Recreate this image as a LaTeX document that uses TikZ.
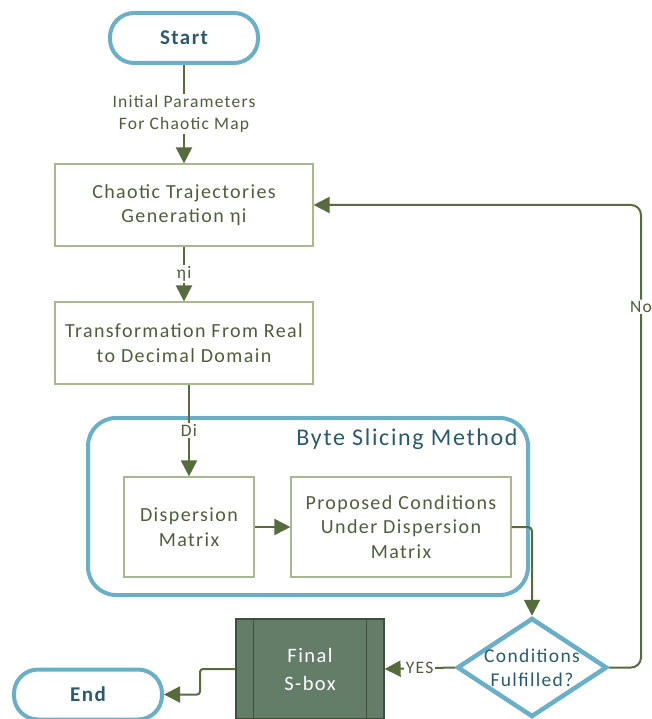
\documentclass[tikz,border=0pt]{standalone}
\usepackage{fontspec}
\setmainfont{Carlito}[LetterSpace=7]
\usetikzlibrary{arrows.meta,shapes.geometric}

\definecolor{frameblue}{HTML}{6AAFC8}
\definecolor{linegreen}{HTML}{566B3E}
\definecolor{boxgreen}{HTML}{A9B98F}
\definecolor{textgreen}{HTML}{4E5E3C}
\definecolor{textteal}{HTML}{2A5B6B}
\definecolor{sboxfill}{HTML}{647D69}
\definecolor{sboxline}{HTML}{3E4F40}

\tikzset{
  terminal/.style={draw=frameblue, line width=4pt, rounded corners=24pt,
    minimum width=148pt, minimum height=50pt, inner sep=0pt,
    font=\fontsize{21}{24}\selectfont\bfseries, text=textteal},
  process/.style={draw=boxgreen, line width=1.2pt, inner sep=0pt,
    align=center, text=textgreen, font=\fontsize{20}{24.5}\selectfont},
  decision/.style={diamond, draw=frameblue, line width=4.5pt, inner sep=0pt,
    minimum width=150pt, minimum height=99pt},
  condtext/.style={align=center, text=textteal, font=\fontsize{19.5}{24}\selectfont},
  sboxnode/.style={draw=sboxline, fill=sboxfill, line width=1.2pt, inner sep=0pt,
    minimum width=148pt, minimum height=100pt, align=center, text=white,
    font=\fontsize{20.5}{28}\selectfont},
  flow/.style={draw=linegreen, line width=2pt, -{Triangle[length=16pt,width=16pt]}},
  lbl/.style={fill=white, inner sep=1.5pt, align=center, text=textgreen,
    font=\fontsize{17.5}{22}\selectfont},
}

\begin{document}
\begin{tikzpicture}[x=1pt,y=-1pt]
  \useasboundingbox (0,0) rectangle (652,719);

  % main column
  \node[terminal] (start) at (184,38) {Start};
  \node[process, minimum width=258pt, minimum height=82pt] (chaos) at (184,205)
    {Chaotic Trajectories\\Generation ηi};
  \node[process, minimum width=258pt, minimum height=82pt] (trans) at (184,343)
    {Transformation From Real\\to Decimal Domain};

  % byte slicing block
  \draw[frameblue, line width=4pt, rounded corners=28pt] (88,418) rectangle (528,595);
  \node[text=textteal, font=\fontsize{24}{28}\selectfont] (bsm) at (407,439) {Byte Slicing Method};
  \node[process, minimum width=130pt, minimum height=100pt] (disp) at (189,527)
    {Dispersion\\Matrix};
  \node[process, minimum width=220pt, minimum height=100pt] (prop) at (401,527)
    {Proposed Conditions\\Under Dispersion\\Matrix};

  % bottom row
  \node[decision] (cond) at (532,667.5) {};
  \node[condtext] (condlbl) at (cond) {Conditions\\Fulfilled?};
  \node[sboxnode] (sbox) at (310,669) {Final\\S-box};
  \draw[sboxline, line width=1.2pt]
    ([xshift=18pt]sbox.north west) -- ([xshift=18pt]sbox.south west)
    ([xshift=-18pt]sbox.north east) -- ([xshift=-18pt]sbox.south east);
  \node[terminal] (end) at (88,694.5) {End};

  \coordinate (noturn) at (641,0);
  \coordinate (endturn) at (200,0);

  \draw[flow] (start) -- node[lbl] {Initial Parameters\\For Chaotic Map} (chaos);
  \draw[flow] (chaos) -- node[lbl] {ηi} (trans);
  \draw[flow] (disp.north |- trans.south) -- node[lbl] {Di} (disp.north);
  \draw[flow] (disp) -- (prop);
  \draw[flow, rounded corners=4pt] (prop.east) -| (cond.north);
  \draw[flow, rounded corners=10pt] (cond.east) -- (cond.east -| noturn)
    -- node[lbl, pos=0.78] {No} (chaos.east -| noturn) -- (chaos.east);
  \draw[flow] (cond.west) -- node[lbl] {YES} (sbox.east);
  \draw[flow, rounded corners=3pt] (sbox.west) -- (sbox.west -| endturn) |- (end.east);
\end{tikzpicture}
\end{document}
